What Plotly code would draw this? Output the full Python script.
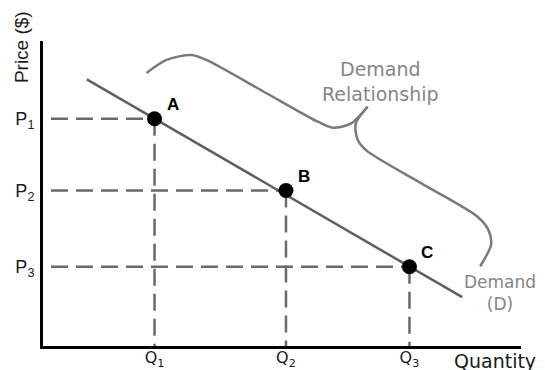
import plotly.graph_objects as go

# ---- data (illustrative demand schedule) ----
point_labels = ["A", "B", "C"]
quantities = [2.8, 6.1, 9.2]          # Q1, Q2, Q3
prices = [7.45, 5.1, 2.6]             # P1, P2, P3
q_tick_text = ["Q<sub>1</sub>", "Q<sub>2</sub>", "Q<sub>3</sub>"]
p_tick_text = ["P<sub>1</sub>", "P<sub>2</sub>", "P<sub>3</sub>"]

demand_x = [1.1, 10.525]
demand_y = [8.74, 1.6]

# curly brace marking the "Demand Relationship"
brace_left_x = [2.6, 3.1, 3.725, 4.1, 5.5, 6.9, 7.275, 7.725, 8.15]
brace_left_y = [8.954, 9.379, 9.542, 9.379, 8.37, 7.353, 7.157, 7.288, 7.843]
brace_right_x = [8.15, 7.85, 7.9, 8.125, 9.5, 10.9, 11.175, 11.25, 10.975]
brace_right_y = [7.843, 7.288, 6.765, 6.405, 5.33, 4.248, 3.824, 3.333, 2.614]

x_range = [0, 12]
y_range = [0, 10]

DASH_COLOR = "#6a6a6a"
LINE_COLOR = "#5f5f5f"
BRACE_COLOR = "#7a7a7a"
TEXT_GRAY = "#858585"

fig = go.Figure()

# guide dashed lines
for q, p in zip(quantities, prices):
    fig.add_trace(go.Scatter(x=[0.2, q], y=[p, p], mode="lines",
                             line=dict(color=DASH_COLOR, width=2.5, dash="17px,8px"),
                             hoverinfo="skip", showlegend=False))
    fig.add_trace(go.Scatter(x=[q, q], y=[p, 0], mode="lines",
                             line=dict(color=DASH_COLOR, width=2.5, dash="17px,8px"),
                             hoverinfo="skip", showlegend=False))

# demand curve
fig.add_trace(go.Scatter(x=demand_x, y=demand_y, mode="lines",
                         line=dict(color=LINE_COLOR, width=2.5),
                         hoverinfo="skip", showlegend=False))

# brace
for bx, by in [(brace_left_x, brace_left_y), (brace_right_x, brace_right_y)]:
    fig.add_trace(go.Scatter(x=bx, y=by, mode="lines",
                             line=dict(color=BRACE_COLOR, width=2.5, shape="spline", smoothing=0.8),
                             hoverinfo="skip", showlegend=False))

# points
fig.add_trace(go.Scatter(x=quantities, y=prices, mode="markers",
                         marker=dict(color="black", size=15),
                         hoverinfo="skip", showlegend=False))

# point labels
for lab, q, p in zip(point_labels, quantities, prices):
    fig.add_annotation(x=q, y=p, text=lab, showarrow=False, xshift=18, yshift=14,
                       font=dict(family="Liberation Sans", size=17, color="black", weight="bold"))

# text labels
fig.add_annotation(x=8.475, y=8.66, text="Demand<br>Relationship", showarrow=False,
                   xanchor="center", yanchor="middle",
                   font=dict(family="DejaVu Sans", size=19, color=TEXT_GRAY))
fig.add_annotation(x=11.47, y=1.75, text="Demand<br>(D)", showarrow=False,
                   xanchor="center", yanchor="middle",
                   font=dict(family="DejaVu Sans", size=17, color=TEXT_GRAY))
fig.add_annotation(xref="paper", yref="paper", x=0.946, y=-0.05, text="Quantity",
                   xanchor="center", yanchor="middle", showarrow=False,
                   font=dict(family="DejaVu Sans", size=19, color="#1a1a1a"))
fig.add_annotation(xref="paper", yref="paper", x=-0.046, y=0.98, text="Price ($)",
                   textangle=-90, xanchor="center", yanchor="middle", showarrow=False,
                   font=dict(family="Liberation Sans", size=19, color="#1a1a1a"))

fig.update_xaxes(range=x_range, showgrid=False, zeroline=False, showline=True,
                 linecolor="black", linewidth=3, tickmode="array", automargin=False,
                 tickvals=quantities, ticktext=q_tick_text, ticks="", ticklabelstandoff=-5,
                 tickfont=dict(family="DejaVu Sans", size=16, color="#1a1a1a"))
fig.update_yaxes(range=y_range, showgrid=False, zeroline=False, showline=True,
                 linecolor="black", linewidth=3, tickmode="array", automargin=False,
                 tickvals=prices, ticktext=p_tick_text, ticks="", ticklabelstandoff=2,
                 tickfont=dict(family="Liberation Sans", size=18, color="#1a1a1a"))

fig.update_layout(width=545, height=370, margin=dict(l=43, r=24, t=41, b=24),
                  plot_bgcolor="white", paper_bgcolor="white", hovermode=False)

fig.write_html("out.html", config={"displayModeBar": False},
               post_script="document.body.style.margin='0';document.body.style.overflow='hidden';")
